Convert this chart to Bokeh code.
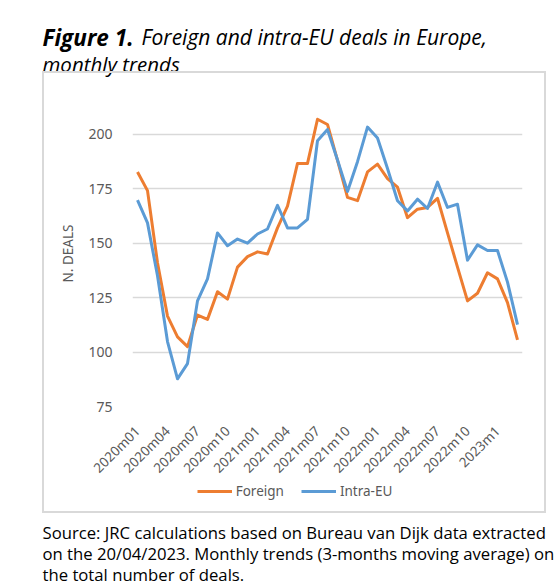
from math import pi
from bokeh.plotting import figure
from bokeh.models import Label, Legend, LegendItem, FixedTicker
from bokeh.embed import file_html
from bokeh.resources import INLINE

# ---- data ----
foreign = [182.7, 174.1, 141.0, 116.5, 107.0, 102.5, 117.0, 115.0, 127.7, 124.3,
           139.0, 143.8, 146.0, 145.0, 157.0, 167.0, 186.6, 186.6, 206.9, 204.5,
           188.0, 171.0, 169.5, 182.7, 186.3, 179.6, 175.7, 161.7, 165.6, 166.4,
           170.6, 154.7, 139.0, 123.5, 127.0, 136.4, 133.6, 122.7, 105.6]
intra_eu = [169.8, 159.3, 135.0, 104.8, 87.7, 94.7, 123.5, 133.6, 154.7, 148.8,
            151.9, 150.0, 154.2, 156.5, 167.4, 157.0, 157.0, 160.9, 197.0, 202.2,
            188.2, 173.7, 187.4, 203.3, 198.3, 184.3, 169.5, 164.8, 170.2, 165.9,
            178.0, 166.4, 167.9, 142.2, 149.2, 146.6, 146.6, 132.1, 112.6]
month_index = list(range(len(foreign)))
tick_positions = [0, 3, 6, 9, 12, 15, 18, 21, 24, 27, 30, 33, 36]
tick_labels = ["2020m01", "2020m04", "2020m07", "2020m10", "2021m01", "2021m04",
               "2021m07", "2021m10", "2022m01", "2022m04", "2022m07", "2022m10", "2023m1"]
y_ticks = [75, 100, 125, 150, 175, 200]
series_names = ["Foreign", "Intra-EU"]
series_colors = ["#ED7D31", "#5B9BD5"]

FONT = "Open Sans"
AX_FONT = "Noto Sans"
GRAY = "#595959"


def blank(width, height, **kw):
    f = figure(width=width, height=height, x_range=(0, 1), y_range=(0, 1),
               min_border=0, toolbar_location=None, output_backend="svg", **kw)
    f.axis.visible = False
    f.grid.grid_line_color = None
    f.outline_line_color = None
    f.background_fill_alpha = 0
    f.border_fill_alpha = 0
    return f


# ---- title (strip is 80 px tall; the chart box overlaps its last 9 px) ----
t = blank(560, 80)
t.add_layout(Label(x=42, y=43.3, x_units="screen", y_units="screen", text="Figure 1.",
                   text_font=FONT, text_font_size="22.5px", text_font_style="bold italic",
                   text_color="#000000", text_baseline="alphabetic"))
t.add_layout(Label(x=141, y=43.3, x_units="screen", y_units="screen",
                   text="Foreign and intra-EU deals in Europe,",
                   text_font=FONT, text_font_size="21px", text_font_style="italic",
                   text_color="#000000", text_baseline="alphabetic"))
t.add_layout(Label(x=42, y=16.5, x_units="screen", y_units="screen", text="monthly trends",
                   text_font=FONT, text_font_size="20.5px", text_font_style="italic",
                   text_color="#000000", text_baseline="alphabetic"))

# ---- main chart ----
p = figure(width=504, height=442, x_range=(-0.5, 38.5), y_range=(75, 215.5),
           min_border_left=88, min_border_right=26, min_border_top=27, min_border_bottom=109,
           toolbar_location=None, output_backend="svg", margin=(-9, 0, 0, 42),
           styles={"border": "2px solid #d9d9d9", "box-sizing": "border-box"})
p.outline_line_color = None
p.background_fill_color = "white"
p.border_fill_alpha = 0

p.line(month_index, foreign, line_color=series_colors[0], line_width=3, line_join="round")
p.line(month_index, intra_eu, line_color=series_colors[1], line_width=3, line_join="round")

p.yaxis.ticker = FixedTicker(ticks=y_ticks)
p.ygrid.ticker = FixedTicker(ticks=y_ticks)
p.ygrid.grid_line_color = "#d9d9d9"
p.ygrid.grid_line_width = 1.5
p.xgrid.grid_line_color = None
p.yaxis.axis_line_color = None
p.yaxis.major_tick_line_color = None
p.yaxis.minor_tick_line_color = None
p.yaxis.major_label_text_font = AX_FONT
p.yaxis.major_label_text_font_size = "14px"
p.yaxis.major_label_text_color = GRAY
p.yaxis.major_label_standoff = 14
p.yaxis.axis_label = "N. DEALS"
p.yaxis.axis_label_text_font = AX_FONT
p.yaxis.axis_label_text_font_size = "13.5px"
p.yaxis.axis_label_text_font_style = "normal"
p.yaxis.axis_label_text_color = GRAY
p.yaxis.axis_label_standoff = 8

p.xaxis.ticker = FixedTicker(ticks=tick_positions)
p.xaxis.major_label_overrides = {pos: lab for pos, lab in zip(tick_positions, tick_labels)}
p.xaxis.major_label_orientation = pi / 4
p.xaxis.axis_line_color = None
p.xaxis.major_tick_line_color = None
p.xaxis.minor_tick_line_color = None
p.xaxis.major_label_text_font = AX_FONT
p.xaxis.major_label_text_font_size = "13.5px"
p.xaxis.major_label_text_color = GRAY
p.xaxis.major_label_standoff = 16

# ---- legend strip (overlaid on the lower part of the chart box) ----
# legend key renderers reuse the series data; they fall outside this strip's ranges
lg = blank(504, 35, margin=(-35, 0, 0, 42))
k1 = lg.line(month_index, foreign, line_color=series_colors[0], line_width=3)
k2 = lg.line(month_index, intra_eu, line_color=series_colors[1], line_width=3)
legend = Legend(items=[LegendItem(label=series_names[0], renderers=[k1]),
                       LegendItem(label=series_names[1], renderers=[k2])],
                orientation="horizontal", location=(154.7, 12.3),
                glyph_width=35, glyph_height=20, label_standoff=4, spacing=17,
                padding=0, margin=0, border_line_color=None, background_fill_alpha=0,
                label_text_font=AX_FONT, label_text_font_size="13.5px", label_text_color=GRAY)
lg.add_layout(legend)

# ---- footnote ----
fn = blank(560, 74)
foot_lines = ["Source: JRC calculations based on Bureau van Dijk data extracted",
              "on the 20/04/2023. Monthly trends (3-months moving average) on",
              "the total number of deals."]
for i, line in enumerate(foot_lines):
    fn.add_layout(Label(x=42, y=55.3 - 21.2 * i, x_units="screen", y_units="screen", text=line,
                        text_font=FONT, text_font_size="16.7px", text_color="#000000",
                        text_baseline="alphabetic"))

open("out.html", "w").write(file_html([t, p, lg, fn], INLINE))
